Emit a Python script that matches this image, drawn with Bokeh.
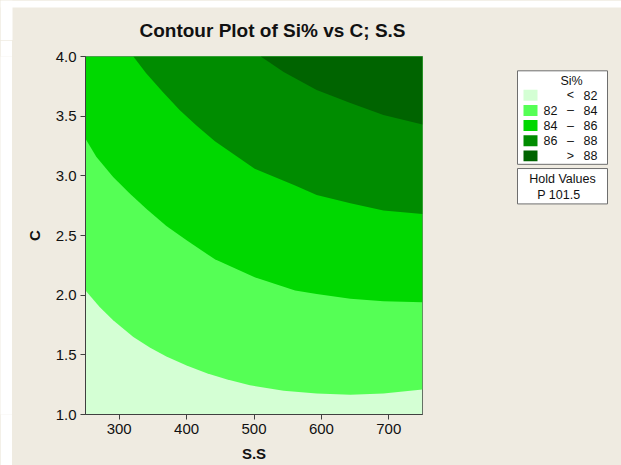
from bokeh.plotting import figure
from bokeh.models import Range1d, FixedTicker, NumeralTickFormatter
from bokeh.layouts import row, column
from bokeh.core.properties import value
from bokeh.embed import file_html
from bokeh.resources import INLINE

# ---------------- data ----------------
SS_RANGE = [250, 750]
C_RANGE = [1.0, 4.0]
ss_ticks = [300, 400, 500, 600, 700]
c_ticks = [1.0, 1.5, 2.0, 2.5, 3.0, 3.5, 4.0]

levels = [82, 84, 86, 88]

# contour line Si% = 82
ss_82 = [250, 271, 291, 321, 346, 370, 400, 430, 459, 494, 544, 593, 643, 692, 750]
c_82 = [2.04, 1.90, 1.79, 1.65, 1.56, 1.485, 1.41, 1.345, 1.295, 1.245, 1.20, 1.175, 1.165, 1.175, 1.21]
# contour line Si% = 84
ss_84 = [250, 266, 291, 316, 341, 370, 400, 442, 501, 561, 593, 643, 692, 750]
c_84 = [3.31, 3.16, 2.99, 2.85, 2.72, 2.58, 2.46, 2.30, 2.15, 2.04, 2.01, 1.97, 1.95, 1.94]
# contour line Si% = 86
ss_86 = [321, 340, 365, 390, 415, 442, 501, 561, 593, 643, 692, 750]
c_86 = [4.0, 3.86, 3.70, 3.55, 3.42, 3.29, 3.06, 2.92, 2.84, 2.77, 2.71, 2.68]
# contour line Si% = 88
ss_88 = [510, 544, 593, 643, 692, 750]
c_88 = [4.0, 3.87, 3.72, 3.61, 3.51, 3.43]

band_colors = ["#D4FFD4", "#55FF55", "#00D800", "#008C00", "#006400"]

hold_name = "P"
hold_value = 101.5

title_text = "Contour Plot of Si% vs C; S.S"
x_label = "S.S"
y_label = "C"
legend_title = "Si%"

# ---------------- styling ----------------
BG = "#EFEBE1"
AX = "#404040"
FONT = "Liberation Sans"
TXT = "#111111"

TOP_H = 40
BODY_H = 425
LEFT_W = 12
MAIN_W = 418
LEG_W = 191
TOTAL_W = LEFT_W + MAIN_W + LEG_W


def blank(width, height, xr, yr, fill):
    f = figure(width=width, height=height, x_range=xr, y_range=yr,
               output_backend="svg", toolbar_location=None,
               x_axis_location=None, y_axis_location=None,
               min_border=0, outline_line_color=None,
               background_fill_color=fill, border_fill_color=fill)
    f.grid.visible = False
    return f


# ---------------- title strip ----------------
tf = blank(TOTAL_W, TOP_H, Range1d(0, TOTAL_W), Range1d(TOP_H, 0), BG)
tf.quad(left=[0, 0], right=[LEFT_W, TOTAL_W], top=[0, 0], bottom=[TOP_H, 7],
        fill_color="white", line_color=None)
tf.text(x=[139], y=[29.5], text=[title_text], text_font=value(FONT),
        text_font_style="bold", text_font_size="19px", text_color=TXT,
        text_align="left", text_baseline="alphabetic")

# left white strip
ls = blank(LEFT_W, BODY_H, Range1d(0, 1), Range1d(0, 1), "white")

# ---------------- main contour plot ----------------
p = figure(width=MAIN_W, height=BODY_H,
           x_range=Range1d(*SS_RANGE), y_range=Range1d(*C_RANGE),
           output_backend="svg", toolbar_location=None,
           min_border_left=73, min_border_right=8,
           min_border_top=16, min_border_bottom=BODY_H + TOP_H - 414,
           background_fill_color=band_colors[0],
           border_fill_color=BG)

p.quad(left=SS_RANGE[0], right=SS_RANGE[1], bottom=C_RANGE[0], top=C_RANGE[1],
       fill_color=band_colors[0], line_color=None)
p.patch(ss_82 + [SS_RANGE[1], SS_RANGE[0]], c_82 + [C_RANGE[1], C_RANGE[1]],
        fill_color=band_colors[1], line_color=None)
p.patch(ss_84 + [SS_RANGE[1], SS_RANGE[0]], c_84 + [C_RANGE[1], C_RANGE[1]],
        fill_color=band_colors[2], line_color=None)
p.patch(ss_86 + [SS_RANGE[1]], c_86 + [C_RANGE[1]],
        fill_color=band_colors[3], line_color=None)
p.patch(ss_88 + [SS_RANGE[1]], c_88 + [C_RANGE[1]],
        fill_color=band_colors[4], line_color=None)

p.grid.visible = False
p.outline_line_color = AX
p.xaxis.ticker = FixedTicker(ticks=ss_ticks)
p.yaxis.ticker = FixedTicker(ticks=c_ticks)
p.yaxis.formatter = NumeralTickFormatter(format="0.0")
p.axis.major_tick_out = 5
p.axis.major_tick_in = 0
p.axis.minor_tick_line_color = None
p.axis.axis_line_color = AX
p.axis.major_tick_line_color = AX
p.axis.major_label_text_font = FONT
p.axis.major_label_text_font_size = "15px"
p.axis.major_label_text_color = TXT
p.axis.major_label_standoff = 4
p.xaxis.axis_label = x_label
p.yaxis.axis_label = y_label
p.axis.axis_label_text_font = FONT
p.axis.axis_label_text_font_style = "bold"
p.axis.axis_label_text_font_size = "15px"
p.axis.axis_label_text_color = TXT
p.xaxis.axis_label_standoff = 8
p.yaxis.axis_label_standoff = 10

# ---------------- legend panel (page pixel coordinates) ----------------
x0 = LEFT_W + MAIN_W
lg = blank(LEG_W, BODY_H, Range1d(x0, x0 + LEG_W), Range1d(TOP_H + BODY_H, TOP_H), BG)

lg.quad(left=[517, 517], right=[607, 607], top=[57, 173], bottom=[168, 215],
        fill_color="white", line_color="#6E6E6E", line_width=1)

rows_y = [86 + 18 * i for i in range(len(band_colors))]
lg.quad(left=523, right=537, top=[y - 6.5 for y in rows_y], bottom=[y + 6.5 for y in rows_y],
        fill_color=band_colors, line_color=None)

lo_txt = [""] + [str(v) for v in levels[:-1]] + [""]
sym_txt = ["<"] + ["\u2013"] * (len(levels) - 1) + [">"]
hi_txt = [str(levels[0])] + [str(v) for v in levels[1:]] + [str(levels[-1])]

txt_kw = dict(text_font=value(FONT), text_font_size="12.5px", text_color=TXT,
              text_baseline="middle")
lg.text(x=[557] * len(rows_y), y=rows_y, text=lo_txt, text_align="right", **txt_kw)
lg.text(x=[570] * len(rows_y), y=rows_y, text=sym_txt, text_align="center", **txt_kw)
lg.text(x=[597] * len(rows_y), y=rows_y, text=hi_txt, text_align="right", **txt_kw)
lg.text(x=[571], y=[69], text=[legend_title], text_align="center", **txt_kw)
lg.text(x=[562], y=[186], text=["Hold Values"], text_align="center", **txt_kw)
lg.text(x=[560], y=[204], text=[f"{hold_name}  {hold_value}"], text_align="center", **txt_kw)

layout = column(tf, row(ls, p, lg), styles={"background-color": BG})
open("out.html", "w").write(file_html(layout, INLINE))
